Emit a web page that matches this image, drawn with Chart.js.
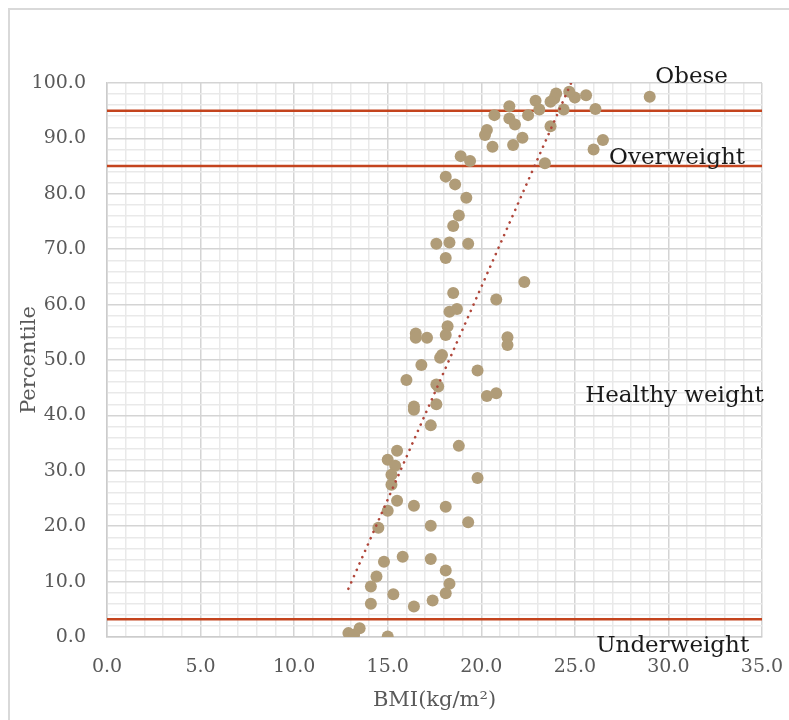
<!DOCTYPE html>
<html>
<head>
<meta charset="utf-8">
<script src="https://cdn.jsdelivr.net/npm/chart.js@4"></script>
<style>
  html, body { margin: 0; padding: 0; background: #fff; }
  #wrap { position: relative; width: 789px; height: 720px; overflow: hidden; }
  #frame { position: absolute; left: 8px; top: 8px; width: 820px; height: 750px; border: 2px solid #d9d9d9; box-sizing: border-box; }
  #chart { position: absolute; left: 0; top: 0; }
</style>
</head>
<body>
<div id="wrap">
  <div id="frame"></div>
  <canvas id="chart" width="789" height="720"></canvas>
</div>
<script>
// BMI (kg/m²) and percentile of each child
const bmi = [
  29.0, 25.6, 25.0, 24.7, 24.0, 23.9, 23.7, 24.4, 22.9, 23.1,
  22.5, 21.5, 20.7, 21.5, 21.8, 26.1, 23.7, 20.3, 20.2, 20.6,
  22.2, 21.7, 26.5, 26.0, 23.4, 18.9, 19.4, 18.1, 18.6, 19.2,
  18.8, 18.5, 17.6, 18.3, 19.3, 18.1, 22.3, 18.5, 20.8, 18.3,
  18.7, 18.2, 18.1, 16.5, 16.5, 17.1, 21.4, 21.4, 17.9, 17.8,
  16.8, 19.8, 16.0, 17.6, 17.7, 17.6, 20.3, 20.8, 16.4, 16.4,
  17.3, 18.8, 15.5, 15.0, 15.4, 15.2, 15.2, 19.8, 15.5, 16.4,
  18.1, 15.0, 14.5, 17.3, 19.3, 14.8, 15.8, 17.3, 18.1, 14.4,
  14.1, 18.3, 18.1, 15.3, 14.1, 17.4, 16.4, 13.5, 12.9, 13.2,
  15.0
];
const percentile = [
  97.5, 97.8, 97.4, 98.4, 98.1, 97.2, 96.6, 95.2, 96.8, 95.2,
  94.2, 95.8, 94.2, 93.6, 92.5, 95.3, 92.2, 91.5, 90.6, 88.5,
  90.1, 88.8, 89.7, 88.0, 85.5, 86.8, 85.9, 83.1, 81.7, 79.3,
  76.1, 74.2, 71.0, 71.2, 71.0, 68.4, 64.1, 62.1, 60.9, 58.7,
  59.2, 56.1, 54.5, 54.8, 54.0, 54.0, 54.1, 52.7, 50.9, 50.4,
  49.1, 48.1, 46.4, 45.6, 45.2, 42.0, 43.5, 44.0, 41.6, 41.0,
  38.2, 34.5, 33.6, 32.0, 30.9, 29.3, 27.5, 28.7, 24.6, 23.7,
  23.5, 22.8, 19.7, 20.1, 20.7, 13.6, 14.5, 14.1, 12.0, 10.9,
  9.1, 9.6, 7.9, 7.7, 6.0, 6.6, 5.5, 1.6, 0.7, 0.4,
  0.1
];

// linear trendline end points
const trendBmi = [12.9, 24.8];
const trendPct = [8.7, 100.0];

// category cut-off lines
const cutoffs = [95, 85, 3.2];
const cutoffSpan = [0, 35];
const zoneLabels = ['Obese', 'Overweight', 'Healthy weight', 'Underweight'];

const xTicks = { min: 0, max: 35, step: 1, major: 5 };
const yTicks = { min: 0, max: 100, step: 2, major: 10 };

const serif = '"DejaVu Serif", "Liberation Serif", serif';
const majorGrid = '#d4d4d4';
const minorGrid = '#e9e9e9';
const redLine = '#c4441e';

const points = bmi.map((b, i) => ({ x: b, y: percentile[i] }));
const trend = trendBmi.map((b, i) => ({ x: b, y: trendPct[i] }));

const datasets = [
  {
    type: 'line',
    data: trend,
    borderColor: '#b0463a',
    borderWidth: 2.6,
    borderDash: [0.1, 6.8],
    borderCapStyle: 'round',
    pointRadius: 0,
    fill: false,
    order: 0
  },
  {
    data: points,
    backgroundColor: '#b09c78',
    borderWidth: 0,
    pointRadius: 6,
    order: 1
  }
];
cutoffs.forEach(c => {
  datasets.push({
    type: 'line',
    data: cutoffSpan.map(x => ({ x: x, y: c })),
    borderColor: redLine,
    borderWidth: 2.5,
    pointRadius: 0,
    fill: false,
    order: 2
  });
});

// text labels for each weight category
const zoneText = {
  id: 'zoneText',
  afterDatasetsDraw(chart) {
    const { ctx, scales } = chart;
    const spots = [[29.3, 100.0], [26.83, 85.3], [25.55, 42.4], [26.14, -2.65]];
    ctx.save();
    ctx.font = '23px ' + serif;
    ctx.fillStyle = '#1a1a1a';
    ctx.textAlign = 'left';
    ctx.textBaseline = 'alphabetic';
    zoneLabels.forEach((t, i) => {
      ctx.fillText(t, scales.x.getPixelForValue(spots[i][0]), scales.y.getPixelForValue(spots[i][1]));
    });
    ctx.restore();
  }
};

function gridColor(major) {
  return c => (c.tick && Math.round(c.tick.value) % major !== 0 ? minorGrid : majorGrid);
}

new Chart(document.getElementById('chart'), {
  type: 'scatter',
  data: { datasets: datasets },
  plugins: [zoneText],
  options: {
    responsive: false,
    animation: false,
    devicePixelRatio: 1,
    layout: { padding: { top: 83, right: 27, left: 0, bottom: 0 } },
    plugins: { legend: { display: false }, tooltip: { enabled: false } },
    scales: {
      x: {
        type: 'linear',
        min: xTicks.min,
        max: xTicks.max,
        afterBuildTicks: s => {
          s.ticks = [];
          for (let v = xTicks.min; v <= xTicks.max; v += xTicks.step) s.ticks.push({ value: v });
        },
        afterFit: s => { s.height = 83; s.paddingLeft = 0; s.paddingRight = 0; },
        grid: { color: gridColor(xTicks.major), lineWidth: 1.5, drawTicks: false },
        border: { color: '#cccccc', width: 1.5 },
        ticks: {
          autoSkip: false,
          maxRotation: 0,
          padding: 19,
          color: '#595959',
          font: { family: serif, size: 19 },
          callback: v => (Math.round(v) % xTicks.major === 0 ? v.toFixed(1) : '')
        },
        title: {
          display: true,
          text: 'BMI(kg/m²)',
          color: '#595959',
          font: { family: serif, size: 21 },
          padding: { top: 0, bottom: 7 }
        }
      },
      y: {
        type: 'linear',
        min: yTicks.min,
        max: yTicks.max,
        afterBuildTicks: s => {
          s.ticks = [];
          for (let v = yTicks.min; v <= yTicks.max; v += yTicks.step) s.ticks.push({ value: v });
        },
        afterFit: s => { s.width = 107; s.paddingTop = 0; s.paddingBottom = 0; },
        grid: { color: gridColor(yTicks.major), lineWidth: 1.5, drawTicks: false },
        border: { color: '#cccccc', width: 1.5 },
        ticks: {
          autoSkip: false,
          padding: 21,
          color: '#595959',
          font: { family: serif, size: 19 },
          callback: v => (Math.round(v) % yTicks.major === 0 ? v.toFixed(1) : '')
        },
        title: {
          display: true,
          text: 'Percentile',
          color: '#595959',
          font: { family: serif, size: 21 },
          padding: { top: 17, bottom: 0 }
        }
      }
    }
  }
});
</script>
</body>
</html>
